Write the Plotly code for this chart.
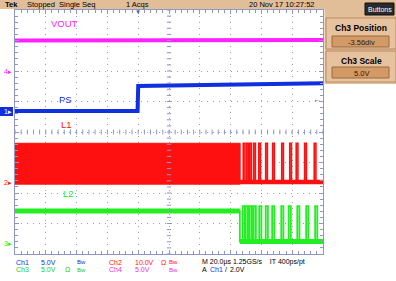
import plotly.graph_objects as go

# ---------------- data (time in µs, 20 µs/div, trigger at 0; vertical in screen divisions) ----------------
t_range = [-80, 120]
v_range = [-4, 4]

vout_t = [-80, 120]
vout_v = [3.0, 3.02]

ps_t = [-80, -0.4, 0.0, 40, 120]
ps_v = [0.69, 0.69, 1.51, 1.55, 1.60]

l1_burst_t = [-80, 66.2]
l1_burst_top = -0.37
l1_burst_bottom = -1.71
l1_base = -1.64
l1_peak = -0.37
l1_pulse_t = [68.2, 70.5, 72.4, 75.0, 78.3, 82.8, 87.3, 93.2, 98.4, 102.6, 108.1, 114.3]

l2_high = -2.59
l2_low = -3.59
l2_peak = -2.43
l2_step_t = 66.0
l2_pulse_t = [67.9, 69.8, 72.4, 75.0, 78.6, 82.8, 87.0, 92.9, 97.7, 103.3, 109.1, 114.9]

ground_ch1 = 0.66
ground_ch2 = -1.67
ground_ch3 = -3.64
ground_ch4 = 2.0
trigger_level = 1.06

# ---------------- colors ----------------
MAG = "#FF22FF"
BLUE = "#1030E0"
RED = "#FF1010"
GREEN = "#22EE22"
TAN = "#E2BE98"
BOXTAN = "#D49A66"
AXC = "#8E96C4"
FONT = "Liberation Sans, Arial, sans-serif"

W, H = 396, 281
L, R, T, B = 15, 323, 10, 254


def px(x):
    return (x - L) / (R - L)


def py(y):
    return (B - y) / (B - T)


fig = go.Figure()

# L1 switching burst (filled band)
fig.add_trace(go.Scatter(
    x=[l1_burst_t[0], l1_burst_t[1], l1_burst_t[1], l1_burst_t[0], l1_burst_t[0]],
    y=[l1_burst_top, l1_burst_top, l1_burst_bottom, l1_burst_bottom, l1_burst_top],
    fill="toself", fillcolor=RED, line=dict(color=RED, width=1), mode="lines", hoverinfo="skip"))

# L1 pulses after burst
w1 = 1.1
xs, ys = [l1_burst_t[1]], [l1_base]
for p in l1_pulse_t:
    xs += [p, p, p + w1, p + w1]
    ys += [l1_base, l1_peak, l1_peak, l1_base]
xs.append(t_range[1])
ys.append(l1_base)
fig.add_trace(go.Scatter(x=xs, y=ys, mode="lines", line=dict(color=RED, width=1.6), hoverinfo="skip"))
fig.add_trace(go.Scatter(x=[l1_burst_t[1], t_range[1]], y=[l1_base, l1_base], mode="lines",
                         line=dict(color=RED, width=4.5), hoverinfo="skip"))

# L2
w2 = 1.4
xs, ys = [t_range[0], l2_step_t, l2_step_t], [l2_high, l2_high, l2_low]
for p in l2_pulse_t:
    xs += [p, p, p + w2, p + w2]
    ys += [l2_low, l2_peak, l2_peak, l2_low]
xs.append(t_range[1])
ys.append(l2_low)
fig.add_trace(go.Scatter(x=xs, y=ys, mode="lines", line=dict(color=GREEN, width=1.8), hoverinfo="skip"))
fig.add_trace(go.Scatter(x=[t_range[0], l2_step_t], y=[l2_high, l2_high], mode="lines",
                         line=dict(color=GREEN, width=5), hoverinfo="skip"))
fig.add_trace(go.Scatter(x=[l2_step_t, t_range[1]], y=[l2_low, l2_low], mode="lines",
                         line=dict(color=GREEN, width=5), hoverinfo="skip"))

# PS and VOUT
fig.add_trace(go.Scatter(x=ps_t, y=ps_v, mode="lines", line=dict(color=BLUE, width=4), hoverinfo="skip"))
fig.add_trace(go.Scatter(x=vout_t, y=vout_v, mode="lines", line=dict(color=MAG, width=4), hoverinfo="skip"))

shapes = []
# center cross ticks
k = -80.0
while k <= 120.001:
    shapes.append(dict(type="line", xref="x", yref="y", x0=k, x1=k, y0=-0.08, y1=0.08,
                       line=dict(color=AXC, width=1)))
    k += 4
k = -4.0
while k <= 4.001:
    shapes.append(dict(type="line", xref="x", yref="y", x0=18.6, x1=21.4, y0=k, y1=k,
                       line=dict(color=AXC, width=1)))
    k += 0.2

# header bar and right panel
shapes.append(dict(type="rect", xref="paper", yref="paper", x0=px(0), x1=px(W), y0=py(9), y1=py(0),
                   fillcolor=TAN, line=dict(width=0), layer="below"))
shapes.append(dict(type="rect", xref="paper", yref="paper", x0=px(324.5), x1=px(W), y0=py(84), y1=py(0),
                   fillcolor=TAN, line=dict(width=0), layer="below"))
# Buttons pill
shapes.append(dict(type="rect", xref="paper", yref="paper", x0=px(365), x1=px(394), y0=py(15), y1=py(3),
                   fillcolor="#2A2A2A", line=dict(color="#111", width=1)))
# panels
for (y0, y1) in [(18, 49), (51, 82)]:
    shapes.append(dict(type="rect", xref="paper", yref="paper", x0=px(326), x1=px(396), y0=py(y1), y1=py(y0),
                       fillcolor="#E6C29E", line=dict(color="#B88A60", width=1)))
for (y0, y1) in [(36, 47), (67, 78)]:
    shapes.append(dict(type="rect", xref="paper", yref="paper", x0=px(332), x1=px(389), y0=py(y1), y1=py(y0),
                       fillcolor=BOXTAN, line=dict(color="#9A6A40", width=1)))
# blue ch1 marker box
shapes.append(dict(type="rect", xref="paper", yref="paper", x0=px(0), x1=px(13), y0=py(116), y1=py(107),
                   fillcolor=BLUE, line=dict(width=0)))

ann = []


def txt(x, y, s, color="black", size=7, xanchor="left", bold=False):
    if bold:
        s = "<b>" + s + "</b>"
    ann.append(dict(xref="paper", yref="paper", x=px(x), y=py(y), text=s, showarrow=False,
                    xanchor=xanchor, yanchor="middle", font=dict(family=FONT, size=size, color=color)))


# header
txt(3, 4.5, "Tek", bold=True, size=7.5)
txt(25, 4.5, "Stopped  Single Seq", size=7.5)
txt(124, 4.5, "1 Acqs", size=7.5)
txt(247, 4.5, "20 Nov 17 10:27:52", size=7.5)
txt(379.5, 9, "Buttons", color="white", size=7, xanchor="center")
txt(361, 28, "Ch3 Position", size=8.5, xanchor="center", bold=True)
txt(361, 42, "-3.56div", color="#301808", size=7.5, xanchor="center")
txt(361, 61, "Ch3 Scale", size=8.5, xanchor="center", bold=True)
txt(361, 73, "5.0V", color="#301808", size=7.5, xanchor="center")

# bottom readouts
G2 = "#22CC22"
M2 = "#E030E0"
r1, r2 = 262, 269.5
txt(14, r1, "Ch1", BLUE); txt(39, r1, "5.0V", BLUE); txt(75, r1, "Bw", BLUE, 6)
txt(107, r1, "Ch2", RED); txt(133, r1, "10.0V", RED); txt(159, r1, "Ω", RED); txt(167, r1, "Bw", RED, 6)
txt(200, r1, "M 20.0µs 1.25GS/s    IT 400ps/pt")
txt(14, r2, "Ch3", G2); txt(39, r2, "5.0V", G2); txt(63, r2, "Ω", G2)
txt(75, r2, "Bw", G2, 6)
txt(107, r2, "Ch4", M2); txt(133, r2, "5.0V", M2); txt(167, r2, "Bw", M2, 6)
txt(199.5, r2, "A")
txt(207.5, r2, "Ch1", BLUE)
txt(223, r2, "/")
txt(228, r2, "2.0V")

# channel labels on screen
for (tx, vy, s, c) in [(-48, 3.57, "VOUT", MAG), (-47.4, 1.08, "PS", BLUE),
                       (-46.8, 0.23, "L1", RED), (-45.5, -2.03, "L2", GREEN)]:
    ann.append(dict(xref="x", yref="y", x=tx, y=vy, text=s, showarrow=False,
                    font=dict(family=FONT, size=9.5, color=c)))

# ground markers
for (vy, s, fc) in [(ground_ch4, "4▸", MAG), (ground_ch2, "2▸", RED),
                    (ground_ch3, "3▸", GREEN), (ground_ch1, "1▸", "white")]:
    ann.append(dict(xref="paper", yref="y", x=0, y=vy, text=s, showarrow=False, xanchor="right",
                    yanchor="middle", xshift=-1, font=dict(family=FONT, size=7, color=fc)))
# trigger level and position markers
ann.append(dict(xref="paper", yref="y", x=1, y=trigger_level, text="←", showarrow=False, xanchor="right",
                yanchor="middle", font=dict(family=FONT, size=8, color=BLUE)))
ann.append(dict(xref="x", yref="paper", x=0, y=1, text="▼", showarrow=False, xanchor="center",
                yanchor="top", yshift=3, font=dict(family=FONT, size=6, color="#3060E0")))

axis_common = dict(showline=True, linecolor=AXC, linewidth=1, mirror="ticks", ticks="inside",
                   tickcolor=AXC, ticklen=4, showticklabels=False, zeroline=False,
                   gridcolor="#A0A0A0", griddash="1px,5px", gridwidth=1)

fig.update_layout(
    width=W, height=H,
    margin=dict(l=L, r=W - R, t=T, b=H - B, pad=0),
    paper_bgcolor="white", plot_bgcolor="white",
    showlegend=False,
    xaxis=dict(range=t_range, dtick=20, tick0=-80,
               minor=dict(dtick=4, ticks="inside", ticklen=3, tickcolor=AXC, showgrid=False),
               **axis_common),
    yaxis=dict(range=v_range, dtick=1, tick0=-4,
               minor=dict(dtick=0.2, ticks="inside", ticklen=3, tickcolor=AXC, showgrid=False),
               **axis_common),
    shapes=shapes,
    annotations=ann,
)

fig.write_html("out.html")
